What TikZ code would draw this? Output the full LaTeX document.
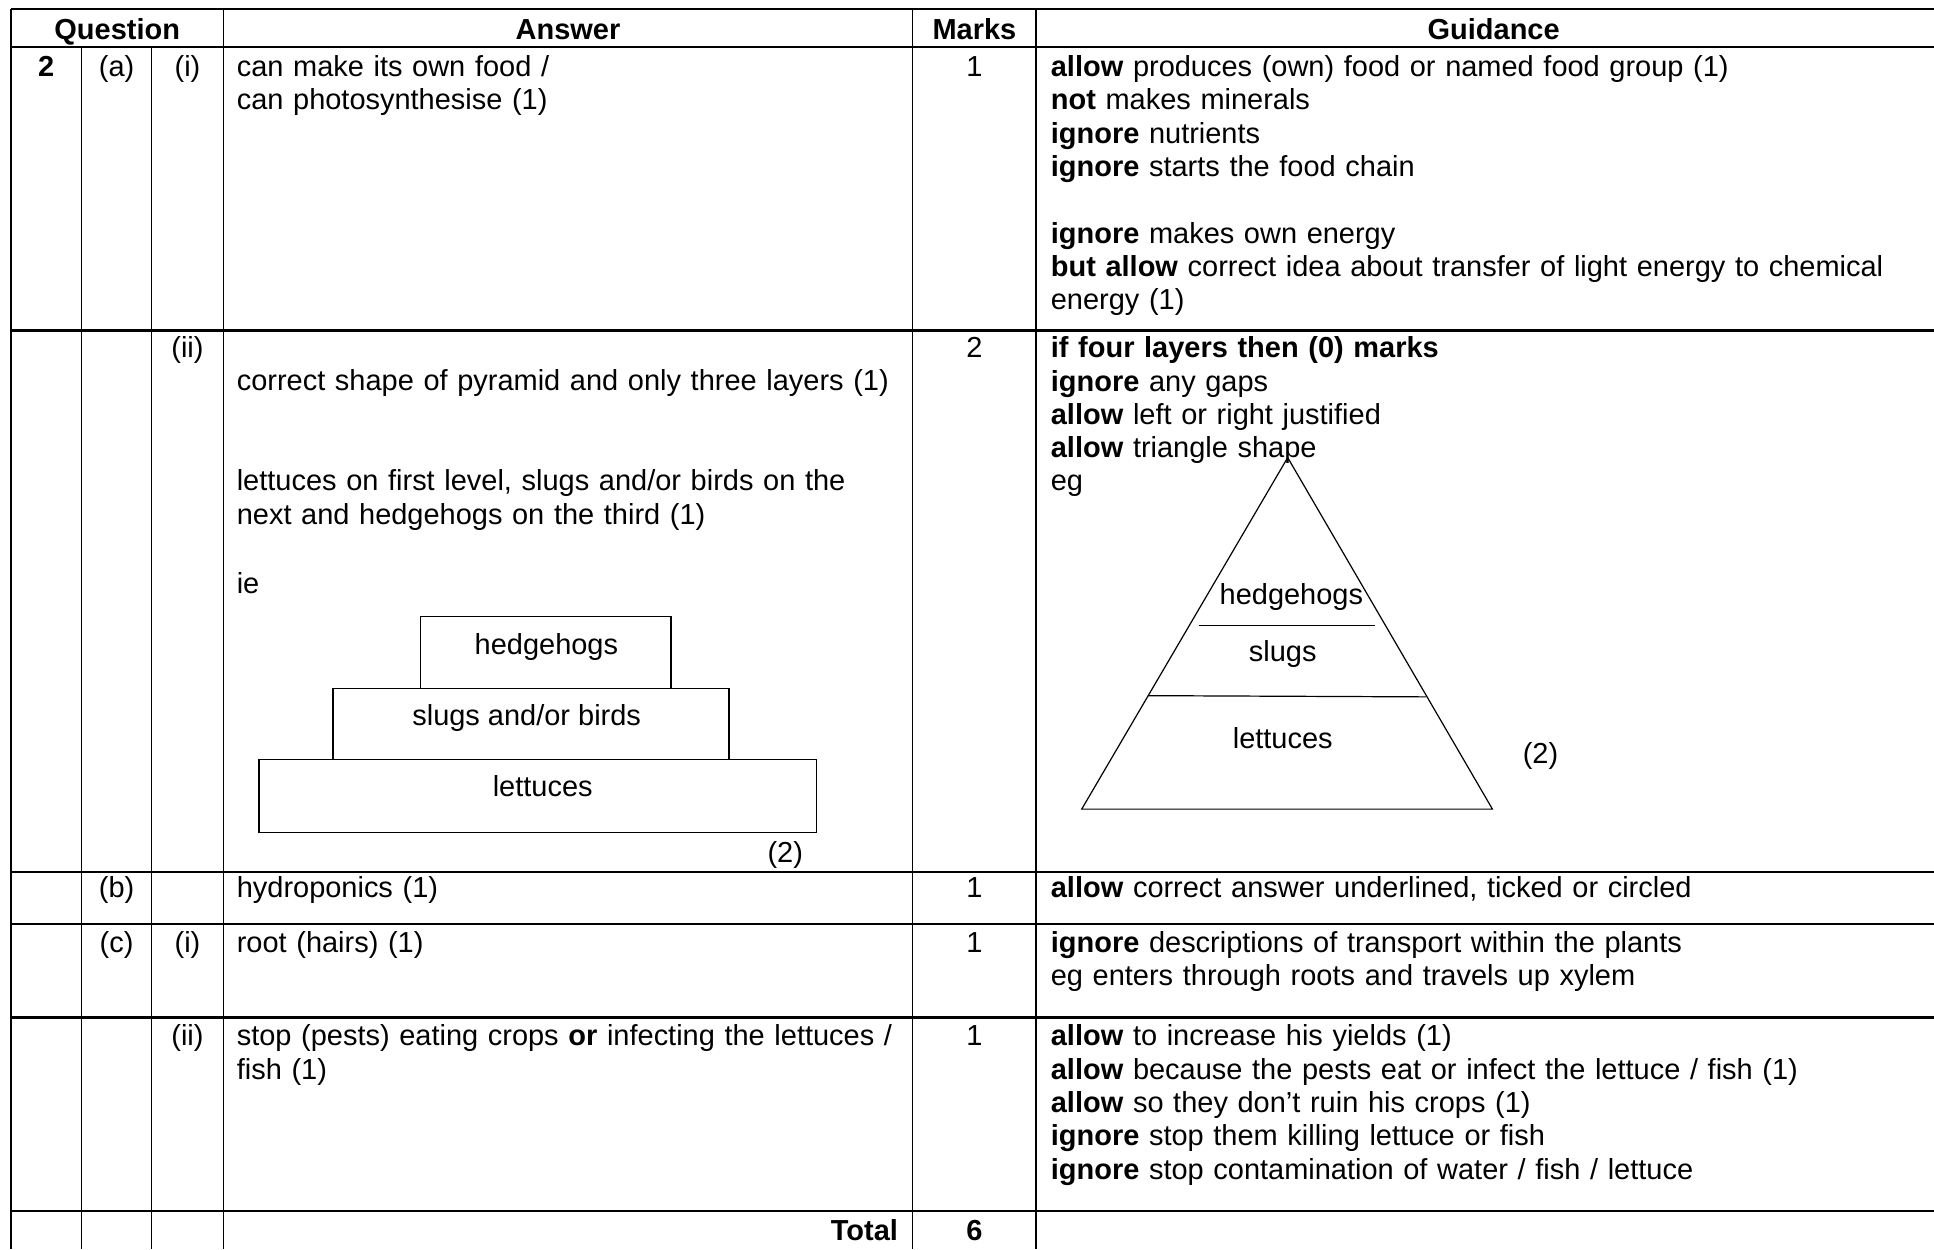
\documentclass[tikz,border=0pt]{standalone}
\usepackage{fontspec}
\setmainfont{Liberation Sans}
\begin{document}
\begin{tikzpicture}[x=0.511pt,y=-0.511pt,
  every node/.style={inner sep=0pt,outer sep=0pt,font=\fontsize{12}{13.8}\selectfont},
  txt/.style={anchor=base west,align=left,text width=380pt},
  ctr/.style={anchor=base},
  rgt/.style={anchor=base east},
  hdr/.style={anchor=base,font=\fontsize{12}{13.8}\selectfont\bfseries},
  hrule/.style={line width=1pt},
  vrule/.style={line width=0.6pt},
  lbox/.style={draw,line width=0.5pt},
  tri/.style={draw,line width=0.5pt,line join=miter}]
\useasboundingbox (0,0) rectangle (1568,1013);

% table rules
\foreach \y in {7.5,38,268,707,749,825,982} \draw[hrule] (9,\y) -- (1568,\y);
\draw[vrule] (9,7.5) -- (9,1013);
\draw[vrule] (66,38) -- (66,1013);
\draw[vrule] (123,38) -- (123,1013);
\draw[vrule] (181,7.5) -- (181,1013);
\draw[vrule] (740,7.5) -- (740,1013);
\draw[vrule] (840,7.5) -- (840,1013);

% header
\node[hdr] (hq) at (95,32) {Question};
\node[hdr] (ha) at (460.5,32) {Answer};
\node[hdr] (hm) at (790,32) {Marks};
\node[hdr] (hg) at (1211,32) {Guidance};

% row (a)(i)
\node[ctr] (q2) at (37.5,62) {\textbf{2}};
\node[ctr] (qa) at (94.5,62) {(a)};
\node[ctr] (qai) at (152,62) {(i)};
\node[txt] (ans1) at (192,62) {can make its own food /\\can photosynthesise (1)};
\node[ctr] (m1) at (790,62) {1};
\node[txt] (g1) at (852,62) {\textbf{allow} produces (own) food or named food group (1)\\\textbf{not} makes minerals\\\textbf{ignore} nutrients\\\textbf{ignore} starts the food chain\\\mbox{}\\\textbf{ignore} makes own energy\\\textbf{but allow} correct idea about transfer of light energy to chemical\\energy (1)};

% row (a)(ii)
\node[ctr] (qaii) at (152,290) {(ii)};
\node[txt] (ans2a) at (192,317) {correct shape of pyramid and only three layers (1)};
\node[txt] (ans2b) at (192,398) {lettuces on first level, slugs and/or birds on the\\next and hedgehogs on the third (1)};
\node[txt] (ans2c) at (192,481) {ie};
\draw[lbox] (341,500) rectangle (544,558);
\draw[lbox] (270,558) rectangle (591,616);
\draw[lbox] (210,616) rectangle (662,675);
\node[ctr] (ph) at (443,531) {hedgehogs};
\node[ctr] (ps) at (427,588) {slugs and/or birds};
\node[ctr] (pl) at (440,646) {lettuces};
\node[rgt] (p2) at (651,699) {(2)};
\node[ctr] (m2) at (790,290) {2};
\node[txt] (g2) at (852,290) {\textbf{if four layers then (0) marks}\\\textbf{ignore} any gaps\\\textbf{allow} left or right justified\\\textbf{allow} triangle shape\\eg};
\coordinate (tA) at (1044,371);
\coordinate (tB) at (877,656);
\coordinate (tC) at (1210,656);
\draw[tri] (tA) -- (tB) -- (tC) -- cycle;
\coordinate (u1) at (972,507);
\coordinate (u2) at (1115,507);
\coordinate (l1) at (931,564);
\coordinate (l2) at (1156,565);
\draw[tri] (u1) -- (u2);
\draw[tri] (l1) -- (l2);
\node[ctr] (th) at (1047,490) {hedgehogs};
\node[ctr] (ts) at (1040,536) {slugs};
\node[ctr] (tl) at (1040,607) {lettuces};
\node[ctr] (t2) at (1249,619) {(2)};

% row (b)
\node[ctr] (qb) at (94.5,728) {(b)};
\node[txt] (ansb) at (192,728) {hydroponics (1)};
\node[ctr] (mb) at (790,728) {1};
\node[txt] (gb) at (852,728) {\textbf{allow} correct answer underlined, ticked or circled};

% row (c)(i)
\node[ctr] (qc) at (94.5,772) {(c)};
\node[ctr] (qci) at (152,772) {(i)};
\node[txt] (ansci) at (192,772) {root (hairs) (1)};
\node[ctr] (mci) at (790,772) {1};
\node[txt] (gci) at (852,772) {\textbf{ignore} descriptions of transport within the plants\\eg enters through roots and travels up xylem};

% row (c)(ii)
\node[ctr] (qcii) at (152,848) {(ii)};
\node[txt] (anscii) at (192,848) {stop (pests) eating crops \textbf{or} infecting the lettuces /\\fish (1)};
\node[ctr] (mcii) at (790,848) {1};
\node[txt] (gcii) at (852,848) {\textbf{allow} to increase his yields (1)\\\textbf{allow} because the pests eat or infect the lettuce / fish (1)\\\textbf{allow} so they don’t ruin his crops (1)\\\textbf{ignore} stop them killing lettuce or fish\\\textbf{ignore} stop contamination of water / fish / lettuce};

% total
\node[rgt] (tot) at (728,1006) {\textbf{Total}};
\node[ctr] (m6) at (790,1006) {\textbf{6}};
\end{tikzpicture}
\end{document}
